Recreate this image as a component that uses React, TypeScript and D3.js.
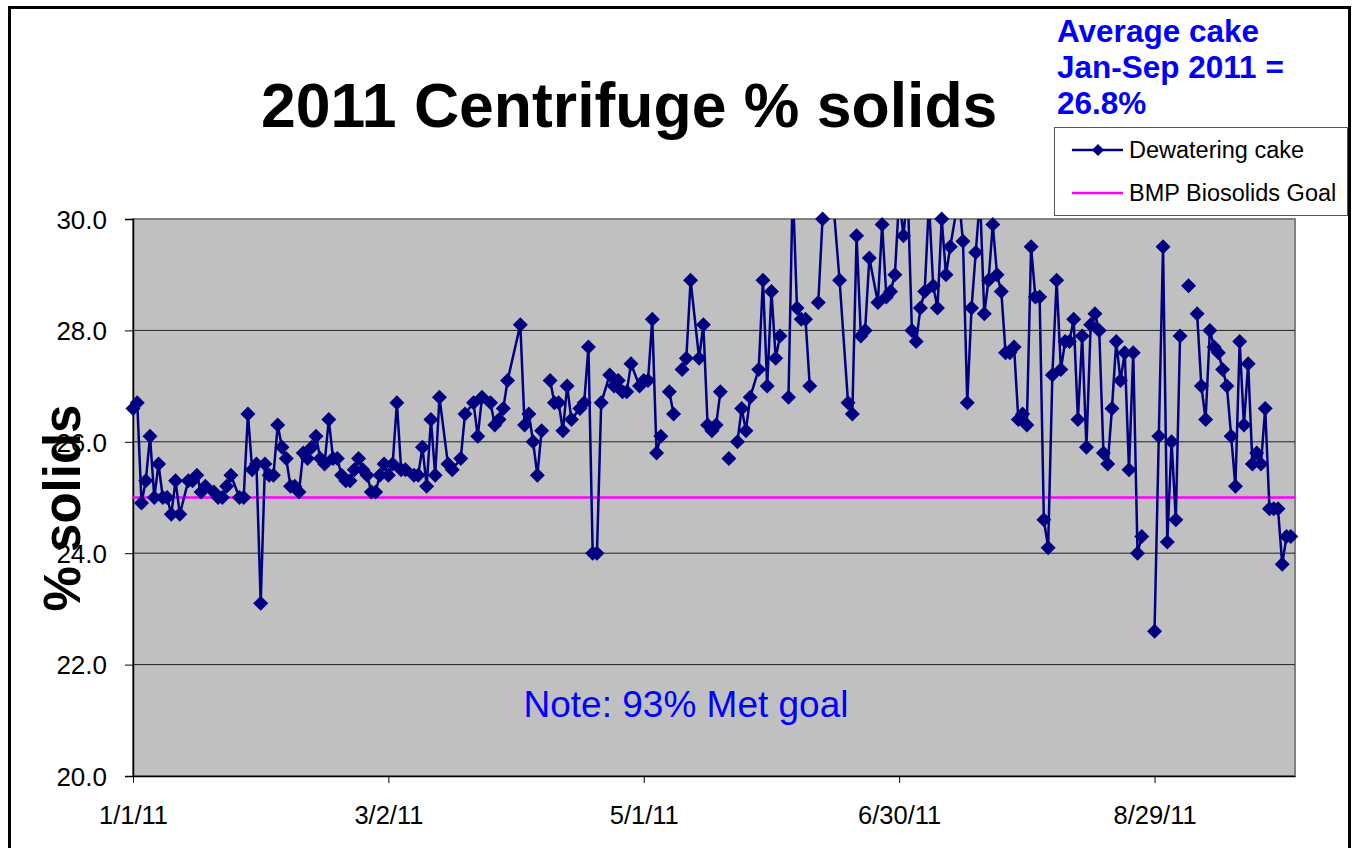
import React, { useEffect, useRef } from 'react';
import * as d3 from 'd3';

// day offsets from 1/1/11 and daily cake % solids (null = no reading, leaves a gap)
const dayOffsets = [
  0, 1, 2, 3, 4, 5, 6, 7, 8, 9, 10, 11, 13, 14, 15, 16, 17, 19, 20, 21, 22, 23, 25, 26, 27, 28, 29, 30,
  31, 32, 33, 34, 35, 36, 37, 38, 39, 40, 41, 42, 43, 44, 45, 46, 47, 48, 49, 50, 51, 52, 53, 54, 55,
  56, 57, 58, 59, 60, 61, 62, 63, 64, 66, 67, 68, 69, 70, 71, 72, 74, 75, 77, 78, 80, 81, 82, 84, 85,
  86, 87, 88, 91, 92, 93, 94, 95, 96, 97, 98, 99, 100, 101, 102, 103, 105, 106, 107, 108, 109, 110,
  112, 113, 114, 115, 116, 117, 119, 120, 121, 122, 123, 124, 125, 126, 127, 128, 129, 130, 131, 133,
  134, 135, 136, 137, 138, 139, 140, 141, 142, 143, 144, 145, 147, 148, 149, 150, 151, 152, 153, 154,
  155, 156, 157, 158, 159, 160, 161, 162, 164, 166, 168, 169, 170, 171, 172, 173, 175, 176, 177, 178,
  179, 180, 181, 182, 183, 184, 185, 186, 187, 188, 189, 190, 191, 192, 194, 195, 196, 197, 198, 199,
  200, 201, 202, 203, 204, 205, 206, 207, 208, 209, 210, 211, 212, 213, 214, 215, 216, 217, 218, 219,
  220, 221, 222, 223, 224, 225, 226, 227, 228, 229, 230, 231, 232, 233, 234, 235, 236, 237, 238, 240,
  241, 242, 243, 244, 245, 246, 247, 248, 249, 250, 251, 252, 253, 254, 255, 256, 257, 258, 259, 260,
  261, 262, 263, 264, 265, 266, 267, 268, 269, 270, 271, 272
];

const cakeSolids = [
  26.6, 26.7, 24.9, 25.3, 26.1, 25.0, 25.6, 25.0, 25.0, 24.7, 25.3, 24.7, 25.3, 25.3, 25.4, 25.1, 25.2,
  25.1, 25.0, 25.0, 25.2, 25.4, 25.0, 25.0, 26.5, 25.5, 25.6, 23.1,
  25.6, 25.4, 25.4, 26.3, 25.9, 25.7, 25.2, 25.2, 25.1, 25.8, 25.7, 25.9, 26.1, 25.7, 25.6, 26.4, 25.7,
  25.7, 25.4, 25.3, 25.3, 25.5, 25.7, 25.5, 25.4,
  25.1, 25.1, 25.4, 25.6, 25.4, 25.6, 26.7, 25.5, 25.5, 25.4, 25.4, 25.9, 25.2, 26.4, 25.4, 26.8, 25.6,
  25.5, 25.7, 26.5, 26.7, 26.1, 26.8, 26.7, 26.3,
  26.4, 26.6, 27.1, 28.1, 26.3, 26.5, 26.0, 25.4, 26.2, null, 27.1, 26.7, 26.7, 26.2, 27.0, 26.4, 26.6,
  26.7, 27.7, 24.0, 24.0, 26.7,
  27.2, 27.0, 27.1, 26.9, 26.9, 27.4, 27.0, 27.1, 27.1, 28.2, 25.8, 26.1, null, 26.9, 26.5, null, 27.3,
  27.5, 28.9, 27.5,
  28.1, 26.3, 26.2, 26.3, 26.9, null, 25.7, null, 26.0, 26.6, 26.2, 26.8, 27.3, 28.9, 27.0, 28.7, 27.5,
  27.9, null, 26.8,
  30.6, 28.4, 28.2, 28.2, 27.0, null, 28.5, 30.0, 30.8, 28.9, 26.7, 26.5, 29.7, 27.9, 28.0, 29.3, 28.5,
  29.9, 28.6, 28.7,
  29.0, 30.4, 29.7, 30.5, 28.0, 27.8, 28.4, 28.7, 30.3, 28.8, 28.4, 30.0, 29.0, 29.5, 30.4, 29.6, 26.7,
  28.4, 29.4, 30.4,
  28.3, 28.9, 29.9, 29.0, 28.7, 27.6, 27.6, 27.7, 26.4, 26.5, 26.3, 29.5, 28.6, 28.6, 24.6, 24.1, 27.2,
  28.9, 27.3, 27.8,
  27.8, 28.2, 26.4, 27.9, 25.9, 28.1, 28.3, 28.0, 25.8, 25.6, 26.6, 27.8, 27.1, 27.6, 25.5, 27.6, 24.0,
  24.3, null, 22.6,
  26.1, 29.5, 24.2, 26.0, 24.6, 27.9, null, 28.8, null, 28.3, 27.0, 26.4, 28.0, 27.7, 27.6, 27.3, 27.0,
  26.1, 25.2, 27.8,
  26.3, 27.4, 25.6, 25.8, 25.6, 26.6, 24.8, 24.8, 24.8, 23.8, 24.3, 24.3
];

const goalSolids = 25.0;
const yTicks = [20, 22, 24, 26, 28, 30];
const xTickDays = [0, 60, 120, 180, 240];
const xTickLabels = ['1/1/11', '3/2/11', '5/1/11', '6/30/11', '8/29/11'];
const averageLines = ['Average cake', 'Jan-Sep 2011 =', '26.8%'];

const FONT = '"Liberation Sans", Arial, sans-serif';
const NAVY = '#000080';

const CentrifugeChart = () => {
  const chart = useRef<SVGSVGElement | null>(null);

  useEffect(() => {
    const start = new Date(Date.UTC(2011, 0, 1));
    const data = dayOffsets.map((d, i) => ({ date: d3.utcDay.offset(start, d), v: cakeSolids[i] }));

    const left = 133, right = 1295, top = 219, bottom = 776;
    const x = d3.scaleUtc().domain([start, d3.utcDay.offset(start, 273)]).range([left, right]);
    const y = d3.scaleLinear().domain([20, 30]).range([bottom, top]);

    const svg = d3.select(chart.current);
    svg.selectAll('*').remove();

    // outer chart frame
    svg.append('rect')
      .attr('x', 9.5).attr('y', 7.5).attr('width', 1340).attr('height', 900)
      .attr('fill', 'white').attr('stroke', 'black').attr('stroke-width', 3);

    // title
    svg.append('text')
      .attr('x', 261).attr('y', 127)
      .attr('font-family', FONT).attr('font-weight', 'bold').attr('font-size', 62.5)
      .text('2011 Centrifuge % solids');

    // average note, top right
    svg.append('g').selectAll('text')
      .data(averageLines)
      .join('text')
      .attr('x', 1057).attr('y', (d, i) => 42 + i * 36)
      .attr('font-family', FONT).attr('font-weight', 'bold').attr('font-size', 31.5)
      .attr('fill', '#0000FF')
      .text(d => d);

    // plot area
    svg.append('rect')
      .attr('x', left).attr('y', top).attr('width', right - left).attr('height', bottom - top)
      .attr('fill', '#C0C0C0').attr('stroke', '#808080').attr('stroke-width', 2);

    svg.append('g').selectAll('line')
      .data(yTicks.filter(t => t > 20 && t < 30))
      .join('line')
      .attr('x1', left).attr('x2', right)
      .attr('y1', d => y(d)).attr('y2', d => y(d))
      .attr('stroke', '#222').attr('stroke-width', 1);

    // y axis
    const yAxis = svg.append('g')
      .attr('transform', `translate(${left},0)`)
      .call(d3.axisLeft(y).tickValues(yTicks).tickFormat(d3.format('.1f')).tickSize(8).tickPadding(18));
    yAxis.select('.domain').attr('stroke', 'black').attr('stroke-width', 1.5);
    yAxis.selectAll('.tick line').attr('stroke', 'black');
    yAxis.selectAll('.tick text')
      .attr('font-family', FONT).attr('font-size', 26).attr('fill', 'black').attr('dy', '0.36em');

    // x axis
    const xAxis = svg.append('g')
      .attr('transform', `translate(0,${bottom})`)
      .call(d3.axisBottom(x)
        .tickValues(xTickDays.map(d => d3.utcDay.offset(start, d)))
        .tickFormat((d, i) => xTickLabels[i])
        .tickSize(7).tickSizeOuter(0).tickPadding(23));
    xAxis.select('.domain').attr('stroke', 'black').attr('stroke-width', 1.5);
    xAxis.selectAll('.tick line').attr('stroke', 'black');
    xAxis.selectAll('.tick text')
      .attr('font-family', FONT).attr('font-size', 25.5).attr('fill', 'black');

    // y axis title
    svg.append('text')
      .attr('transform', 'translate(80,508) rotate(-90)')
      .attr('text-anchor', 'middle')
      .attr('font-family', FONT).attr('font-weight', 'bold').attr('font-size', 51)
      .text('% solids');

    // goal line
    svg.append('line')
      .attr('x1', left).attr('x2', right)
      .attr('y1', y(goalSolids)).attr('y2', y(goalSolids))
      .attr('stroke', '#FF00FF').attr('stroke-width', 2.5);

    // data line clipped to the plot area
    svg.append('clipPath').attr('id', 'plotClip')
      .append('rect').attr('x', left).attr('y', top).attr('width', right - left).attr('height', bottom - top);

    const line = d3.line<{ date: Date; v: number | null }>()
      .defined(d => d.v != null)
      .x(d => x(d.date))
      .y(d => y(d.v as number));

    svg.append('path')
      .datum(data)
      .attr('clip-path', 'url(#plotClip)')
      .attr('d', line)
      .attr('fill', 'none')
      .attr('stroke', NAVY)
      .attr('stroke-width', 2.5)
      .attr('stroke-linejoin', 'round');

    const diamond = 'M0,-7.5L7.5,0L0,7.5L-7.5,0Z';
    svg.append('g').selectAll('path')
      .data(data.filter(d => d.v != null && d.v <= 30))
      .join('path')
      .attr('transform', d => `translate(${x(d.date)},${y(d.v as number)})`)
      .attr('d', diamond)
      .attr('fill', NAVY);

    // note
    svg.append('text')
      .attr('x', 686).attr('y', 717)
      .attr('text-anchor', 'middle')
      .attr('font-family', FONT).attr('font-size', 37).attr('fill', '#0000FF')
      .text('Note: 93% Met goal');

    // legend
    const legend = svg.append('g');
    legend.append('rect')
      .attr('x', 1054.5).attr('y', 127.5).attr('width', 293).attr('height', 88)
      .attr('fill', 'white').attr('stroke', '#555').attr('stroke-width', 1);
    legend.append('line')
      .attr('x1', 1072).attr('x2', 1123).attr('y1', 150).attr('y2', 150)
      .attr('stroke', NAVY).attr('stroke-width', 2.5);
    legend.append('path')
      .attr('transform', 'translate(1098,150)')
      .attr('d', 'M0,-6L6,0L0,6L-6,0Z').attr('fill', NAVY);
    legend.append('line')
      .attr('x1', 1072).attr('x2', 1123).attr('y1', 193).attr('y2', 193)
      .attr('stroke', '#FF00FF').attr('stroke-width', 2.5);
    legend.selectAll('text.lbl')
      .data(['Dewatering cake', 'BMP Biosolids Goal'])
      .join('text')
      .attr('class', 'lbl')
      .attr('x', 1129).attr('y', (d, i) => 158 + i * 43)
      .attr('font-family', FONT).attr('font-size', 23.5).attr('fill', 'black')
      .text(d => d);
  }, []);

  return (
    <svg ref={chart} width={1356} height={848}
      style={{ position: 'absolute', left: 0, top: 0, background: 'white' }} />
  );
};

export default function App() {
  return <CentrifugeChart />;
}
